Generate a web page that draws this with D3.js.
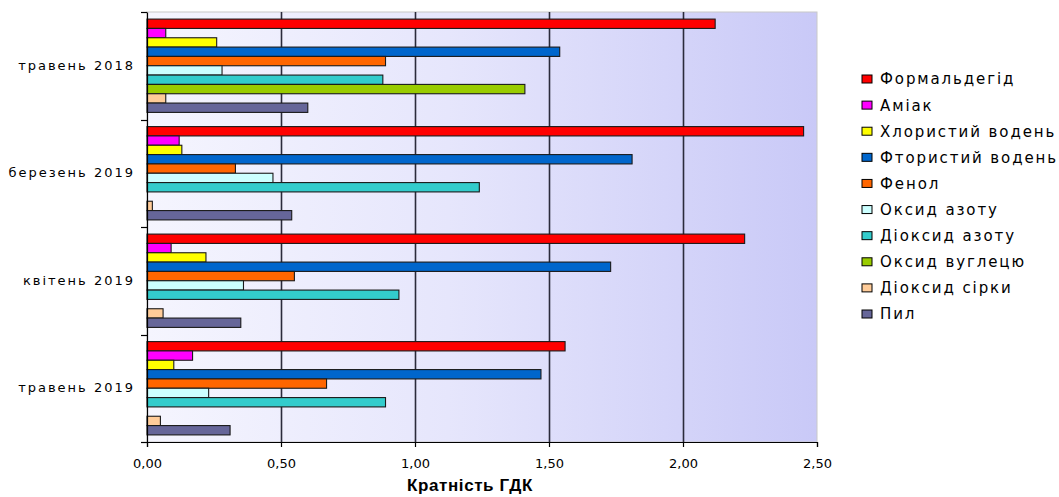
<!DOCTYPE html>
<html>
<head>
<meta charset="utf-8">
<script src="https://cdn.jsdelivr.net/npm/d3@7/dist/d3.min.js"></script>
<style>
  html, body { margin: 0; padding: 0; background: #ffffff; }
  svg { display: block; }
</style>
</head>
<body>
<svg id="chart" width="1059" height="497"></svg>
<script>
// ---- data ----
const categories = ["травень 2018", "березень 2019", "квітень 2019", "травень 2019"];
const seriesNames = ["Формальдегід", "Аміак", "Хлористий водень", "Фтористий водень", "Фенол",
  "Оксид азоту", "Діоксид азоту", "Оксид вуглецю", "Діоксид сірки", "Пил"];
const seriesColors = ["#ff0000", "#ff00ff", "#ffff00", "#0066cc", "#ff6600",
  "#ccffff", "#33cccc", "#99cc00", "#ffcc99", "#666699"];
const formaldehyde = [2.12, 2.45, 2.23, 1.56];
const ammonia      = [0.07, 0.12, 0.09, 0.17];
const hcl          = [0.26, 0.13, 0.22, 0.10];
const hf           = [1.54, 1.81, 1.73, 1.47];
const phenol       = [0.89, 0.33, 0.55, 0.67];
const no           = [0.28, 0.47, 0.36, 0.23];
const no2          = [0.88, 1.24, 0.94, 0.89];
const co           = [1.41, 0, 0, 0];
const so2          = [0.07, 0.02, 0.06, 0.05];
const dust         = [0.60, 0.54, 0.35, 0.31];
const seriesValues = [formaldehyde, ammonia, hcl, hf, phenol, no, no2, co, so2, dust];
const xTicks = [0, 0.5, 1.0, 1.5, 2.0, 2.5];
const xTitle = "Кратність ГДК";

// ---- layout ----
const svg = d3.select("#chart");
const plot = { left: 147, right: 817, top: 12, bottom: 442 };

const x = d3.scaleLinear().domain([0, 2.5]).range([plot.left, plot.right]);
const y0 = d3.scaleBand().domain(categories).range([plot.top, plot.bottom])
  .paddingInner(0.132).paddingOuter(0.066);
const y1 = d3.scaleBand().domain(seriesNames).range([0, y0.bandwidth()]).padding(0);

// background gradient
const defs = svg.append("defs");
const grad = defs.append("linearGradient").attr("id", "bg")
  .attr("x1", "0%").attr("x2", "100%").attr("y1", "0%").attr("y2", "0%");
grad.append("stop").attr("offset", "0%").attr("stop-color", "#f5f5fe");
grad.append("stop").attr("offset", "45%").attr("stop-color", "#e6e6fc");
grad.append("stop").attr("offset", "100%").attr("stop-color", "#c9c9f7");

svg.append("rect")
  .attr("x", plot.left).attr("y", plot.top)
  .attr("width", plot.right - plot.left).attr("height", plot.bottom - plot.top)
  .attr("fill", "url(#bg)")
  .attr("stroke", "#c8c8c8").attr("stroke-width", 1);

// gridlines
svg.append("g").selectAll("line")
  .data(xTicks.filter(d => d > 0 && d < 2.5))
  .join("line")
  .attr("x1", d => Math.round(x(d)) + 0.5).attr("x2", d => Math.round(x(d)) + 0.5)
  .attr("y1", plot.top).attr("y2", plot.bottom)
  .attr("stroke", "#2b2b3b").attr("stroke-width", 1.6);

// bars
const groups = svg.append("g").selectAll("g")
  .data(categories)
  .join("g")
  .attr("transform", d => `translate(0,${y0(d)})`);

groups.selectAll("rect")
  .data((c, ci) => seriesNames.map((s, si) => ({ s, si, v: seriesValues[si][ci] })).filter(d => d.v > 0))
  .join("rect")
  .attr("x", x(0))
  .attr("y", d => y1(d.s))
  .attr("width", d => x(d.v) - x(0))
  .attr("height", y1.bandwidth())
  .attr("fill", d => seriesColors[d.si])
  .attr("stroke", "#1a1a1a")
  .attr("stroke-width", 1.1);

// x axis
const xAxis = d3.axisBottom(x).tickValues(xTicks).tickSize(5).tickPadding(12)
  .tickFormat(d => d3.format(".2f")(d).replace(".", ","));
const gx = svg.append("g").attr("transform", `translate(0,${plot.bottom})`).call(xAxis);
gx.select(".domain").attr("stroke", "#000").attr("stroke-width", 1.2);
gx.selectAll(".tick line").attr("stroke", "#000").attr("stroke-width", 1.2);
gx.selectAll("text").attr("font-family", "DejaVu Sans").attr("font-size", 13).attr("fill", "#000");

// y axis
const yAxis = d3.axisLeft(y0).tickSize(0).tickPadding(12);
const gy = svg.append("g").attr("transform", `translate(${plot.left},0)`).call(yAxis);
gy.select(".domain").attr("stroke", "#000").attr("stroke-width", 1.2);
gy.selectAll("text").attr("font-family", "DejaVu Sans").attr("font-size", 13)
  .attr("letter-spacing", "2px").attr("fill", "#000");
// boundary ticks between categories
const bounds = d3.range(categories.length + 1).map(i => plot.top + i * y0.step());
svg.append("g").selectAll("line").data(bounds).join("line")
  .attr("x1", plot.left - 6).attr("x2", plot.left)
  .attr("y1", d => Math.round(d) + 0.5).attr("y2", d => Math.round(d) + 0.5)
  .attr("stroke", "#000").attr("stroke-width", 1.2);

// x title
svg.append("text")
  .attr("x", 470).attr("y", 491)
  .attr("text-anchor", "middle")
  .attr("font-family", "Liberation Sans").attr("font-weight", "bold")
  .attr("font-size", 17).attr("letter-spacing", "0.6px").attr("fill", "#000")
  .text(xTitle);

// legend
const legendY = d3.scalePoint().domain(seriesNames).range([79, 314]);
const lg = svg.append("g").selectAll("g").data(seriesNames).join("g")
  .attr("transform", d => `translate(862,${legendY(d)})`);
lg.append("rect")
  .attr("x", 0).attr("y", -4).attr("width", 10).attr("height", 8)
  .attr("fill", (d, i) => seriesColors[i])
  .attr("stroke", "#000").attr("stroke-width", 1);
lg.append("text")
  .attr("x", 18).attr("y", 0).attr("dy", "0.36em")
  .attr("font-family", "DejaVu Sans").attr("font-size", 15)
  .attr("letter-spacing", "1.9px").attr("fill", "#000")
  .text(d => d);
</script>
</body>
</html>
